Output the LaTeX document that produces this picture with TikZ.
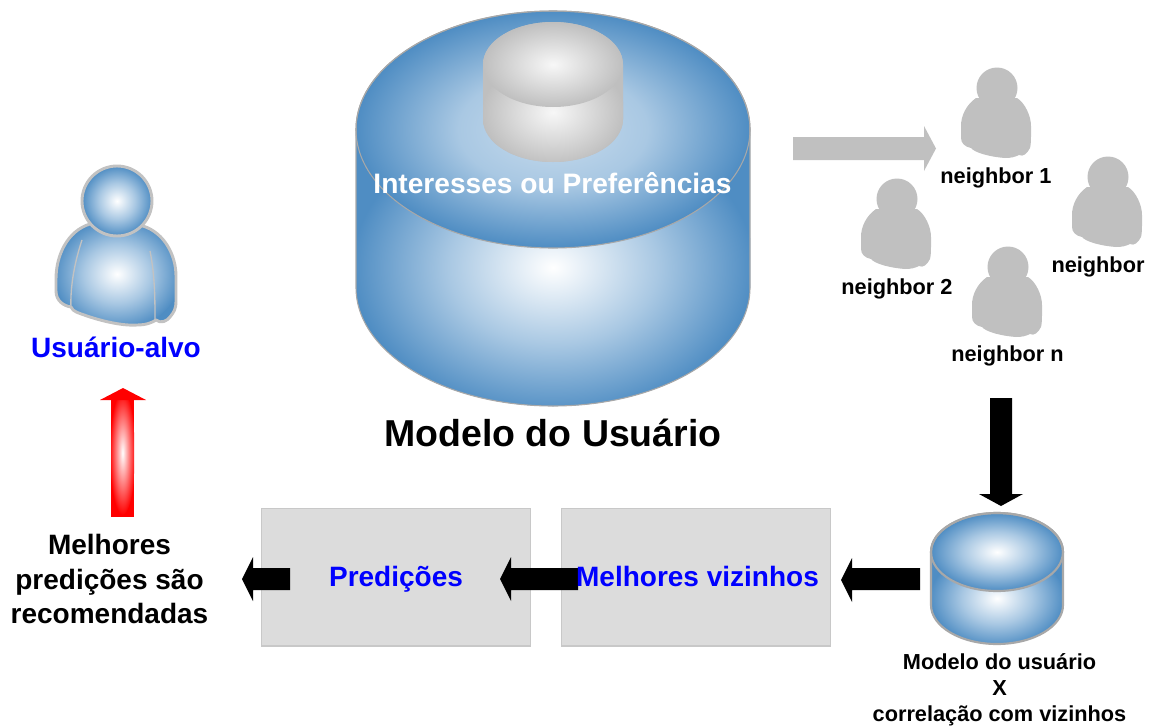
\documentclass[tikz,border=0pt]{standalone}
\usepackage{fontspec}
\setmainfont{Liberation Sans}
\definecolor{cylblue}{HTML}{4F8DC3}
\definecolor{softblue}{HTML}{A9C8E3}
\definecolor{edgegray}{HTML}{A8A8A8}
\definecolor{persongray}{HTML}{C0C0C0}
\definecolor{boxfill}{HTML}{DCDCDC}
\definecolor{boxedge}{HTML}{C8C8C8}
\definecolor{cylgray}{HTML}{BFBFBF}
\pgfdeclareradialshading{blueglow}{\pgfpoint{0bp}{0bp}}{color(0bp)=(white);color(13bp)=(softblue);color(25bp)=(cylblue);color(50bp)=(cylblue)}
\pgfdeclareradialshading{bluesoft}{\pgfpoint{0bp}{0bp}}{color(0bp)=(softblue!65!white);color(12bp)=(softblue);color(25bp)=(cylblue);color(50bp)=(cylblue)}
\pgfdeclareradialshading{grayglow}{\pgfpoint{0bp}{0bp}}{color(0bp)=(white!97!black);color(25bp)=(cylgray);color(50bp)=(cylgray)}
\pgfdeclareradialshading{redglow}{\pgfpoint{0bp}{0bp}}{color(0bp)=(white);color(25bp)=(red);color(50bp)=(red)}
\tikzset{
 x=0.75pt,y=-0.75pt,
 lbl/.style={font=\bfseries,inner sep=0pt,align=center},
 bluelbl/.style={lbl,text=blue,anchor=base,font=\bfseries\fontsize{21pt}{25pt}\selectfont},
 nlbl/.style={lbl,anchor=base,font=\bfseries\fontsize{16.3pt}{19.5pt}\selectfont},
 panel/.style={draw=boxedge,fill=boxfill,line width=1pt,inner sep=0pt,minimum width=201.8pt,minimum height=103pt,anchor=north west},
 blockarrow/.style={fill=black,draw=none},
}
% \cyl{cx}{top centre y}{bottom centre y}{rx}{ry}{top shading}{body shading}{stroke}{name}; base colour in \cylbase
\newcommand{\cyl}[9]{
 \begin{scope}
  \clip (#1-#4,#2) -- (#1-#4,#3) arc[start angle=180,end angle=360,x radius=#4,y radius=-#5] -- (#1+#4,#2) arc[start angle=0,end angle=180,x radius=#4,y radius=-#5] -- cycle;
  \fill[\cylbase] (#1-#4-2,#2-#5-2) rectangle (#1+#4+2,#3+#5+2);
  \shade[shading=#7] (#1,#3-#5*0.17) ellipse[x radius=#4*1.02,y radius=#5*1.25];
 \end{scope}
 \shade[shading=#6] (#1,#2) ellipse[x radius=#4,y radius=#5];
 \draw[#8] (#1-#4,#3) arc[start angle=180,end angle=360,x radius=#4,y radius=-#5] -- (#1+#4,#2) arc[start angle=0,end angle=180,x radius=#4,y radius=-#5] -- cycle;
 \draw[#8] (#1,#2) ellipse[x radius=#4,y radius=#5];
 \coordinate (#9) at (#1,#2);
}
\newcommand{\bluebody}{(-27,23) .. controls (-50,30) and (-61,55) .. (-61,78) -- (-61,90) .. controls (-61,100) and (-53,105) .. (-46,106) .. controls (-44,111) and (-38,112) .. (-30,115) .. controls (-15,120) and (5,125) .. (20,124) .. controls (30,124) and (36,121) .. (39,119) .. controls (44,123) and (50,120) .. (53,116) .. controls (57,111) and (59,108) .. (59,100) -- (59,75) .. controls (59,55) and (48,32) .. (26,25)}
\newcommand{\grayperson}[3]{
 \begin{scope}[shift={(#1,#2)}]
  \fill[persongray] (-21,10) .. controls (-31,17) and (-36,28) .. (-36,38) -- (-36,50) .. controls (-36,55) and (-32,59) .. (-26,60) .. controls (-22,65) and (-6,69) .. (8,70) .. controls (14,70) and (18,69) .. (22,67) .. controls (26,69) and (30,66) .. (33,60) .. controls (34,56) and (34,52) .. (34,45) -- (34,38) .. controls (34,28) and (28,15) .. (20,10) -- cycle;
  \fill[persongray] (0,0) circle[radius=20.5];
  \coordinate (#3) at (0,0);
 \end{scope}
}
\begin{document}
\begin{tikzpicture}
\useasboundingbox (0,0) rectangle (1153,725);
\fill[white] (0,0) rectangle (1153,725);
% large cylinder
\def\cylbase{cylblue}
\cyl{553}{129.5}{287.5}{197}{118.5}{bluesoft}{blueglow}{draw=edgegray,line width=0.8pt}{bigcyl}
% small gray cylinder
\def\cylbase{cylgray}
\cyl{553}{64.5}{119.5}{70}{42.5}{grayglow}{grayglow}{draw=none}{graycyl}
\node[lbl,text=white,anchor=base,font=\bfseries\fontsize{21.1pt}{25pt}\selectfont] (interesses) at (552.5,193) {Interesses ou Preferências};
\node[lbl,anchor=base,font=\bfseries\fontsize{28.1pt}{33pt}\selectfont] (modelo) at (553,446) {Modelo do Usuário};
% target user
\begin{scope}[shift={(117,201)}]
 \begin{scope}
  \clip \bluebody -- cycle;
  \fill[cylblue] (-70,0) rectangle (70,130);
  \shade[shading=blueglow] (0,73) ellipse[x radius=64,y radius=56];
 \end{scope}
 \draw[edgegray!70!white,line width=2.2pt,line join=round] \bluebody -- cycle;
 \draw[edgegray!70!white,line width=1pt] (-35,39) .. controls (-42,60) and (-47,85) .. (-46,107);
 \draw[edgegray!70!white,line width=1pt] (33,50) .. controls (38,75) and (38,100) .. (38,119);
 \shade[shading=blueglow] (0,0) circle[radius=35];
 \draw[edgegray!70!white,line width=2.2pt] (0,0) circle[radius=35];
 \coordinate (target) at (0,0);
\end{scope}
\node[bluelbl] (alvo) at (116,357.5) {Usuário-alvo};
% red arrow
\begin{scope}
 \clip (111,400) rectangle (134,517);
 \fill[red] (111,400) rectangle (134,517);
 \shade[shading=redglow] (122.5,453) ellipse[x radius=13,y radius=62];
\end{scope}
\fill[red] (100,400) -- (123,388) -- (146,400) -- cycle;
\node[lbl,font=\bfseries\fontsize{21pt}{25.9pt}\selectfont] (melhores) at (109.5,579) {Melhores\\predições são\\recomendadas};
% neighbours
\fill[persongray] (793,137) -- (924,137) -- (924,126) -- (936,148.5) -- (924,171) -- (924,160) -- (793,160) -- cycle;
\grayperson{997}{88}{p1}
\grayperson{1108}{177}{p3}
\grayperson{897}{199}{p2}
\grayperson{1008}{267}{pn}
\node[nlbl] (n1) at (996,183) {neighbor 1};
\node[nlbl] (n3) at (1098,272) {neighbor};
\node[nlbl] (n2) at (897,294) {neighbor 2};
\node[nlbl] (nn) at (1007.5,361) {neighbor n};
% black arrows
\fill[blockarrow] (990,398) -- (1012,398) -- (1012,494) -- (1023,494) -- (1001,506) -- (979,494) -- (990,494) -- cycle;
\node[panel] (pred) at (261,508) {};
\node[panel] (viz) at (561,508) {};
\node[bluelbl] (predtxt) at (396,586) {Predições};
\fill[blockarrow] (920,568) -- (920,590) -- (852,590) -- (852,602) -- (841,580) -- (852,558) -- (852,568) -- cycle;
\fill[blockarrow] (578,568) -- (578,590) -- (511,590) -- (511,601) -- (500,579) -- (511,557) -- (511,568) -- cycle;
\fill[blockarrow] (290,568) -- (290,590) -- (253,590) -- (253,601) -- (242,579) -- (253,557) -- (253,568) -- cycle;
\node[bluelbl] (viztxt) at (697.5,586) {Melhores vizinhos};
% small cylinder
\def\cylbase{cylblue}
\cyl{997}{552}{605}{66}{39}{blueglow}{blueglow}{draw=edgegray,line width=1.6pt}{smallcyl}
\node[lbl,font=\bfseries\fontsize{16.3pt}{19.5pt}\selectfont] (corr) at (999.5,690) {Modelo do usuário\\X\\correlação com vizinhos};
\end{tikzpicture}
\end{document}
